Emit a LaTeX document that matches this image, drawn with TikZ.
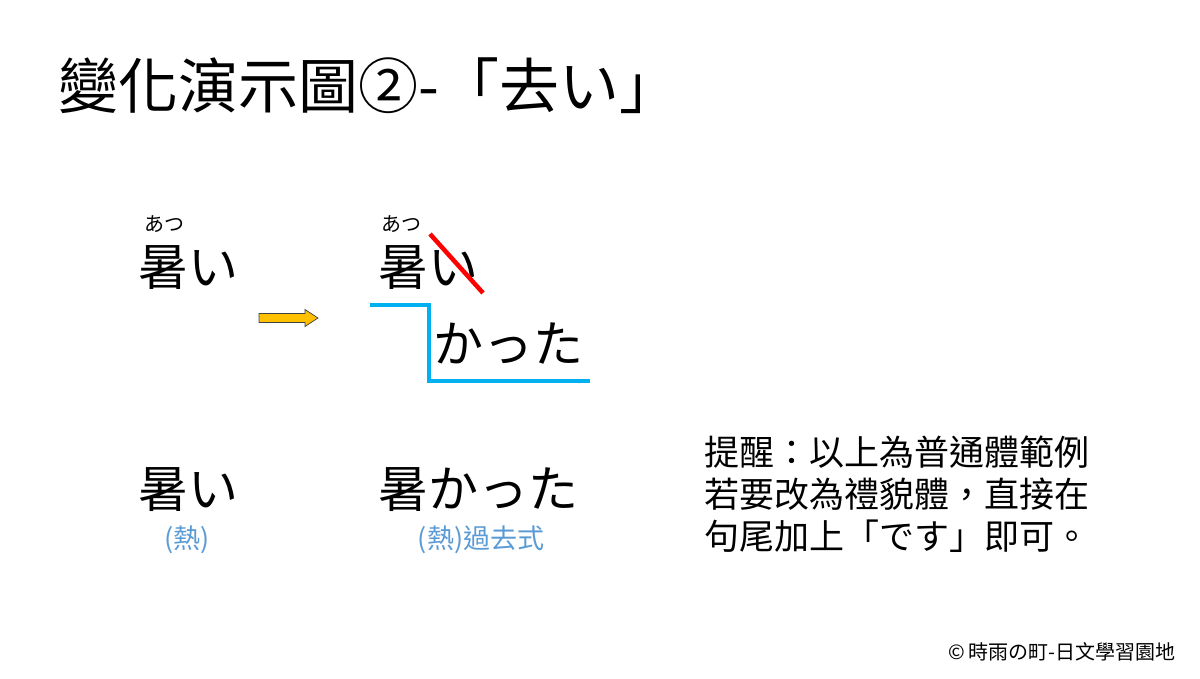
\documentclass[tikz,border=0pt]{standalone}
\usepackage{fontspec}
\setmainfont{Noto Sans CJK TC}
\definecolor{bluelabel}{HTML}{5B9BD5}
\definecolor{cyanline}{HTML}{00B0F0}
\definecolor{arrowfill}{HTML}{FFC000}
\tikzset{
  big/.style={inner sep=0pt, font=\fontsize{50}{54}\selectfont},
  ruby/.style={inner sep=0pt, font=\fontsize{20}{22}\selectfont},
  gloss/.style={inner sep=0pt, text=bluelabel, font=\fontsize{27}{30}\selectfont},
  note/.style={inner sep=0pt, align=left, font=\fontsize{35}{42}\selectfont},
}
\begin{document}
\begin{tikzpicture}[x=1pt,y=-1pt]
\useasboundingbox[fill=white] (0,0) rectangle (1200,679);
\node[inner sep=0pt, anchor=west, font=\fontsize{60}{64}\selectfont] (title) at (58,86) {變化演示圖②-「去い」};

% top row
\node[big, anchor=west] (w1) at (138,268) {暑い};
\node[ruby, anchor=west] (r1) at (144,224) {あつ};
\node[big, anchor=west] (w2) at (378,268) {暑い};
\node[ruby, anchor=west] (r2) at (381,224) {あつ};
\node[big, anchor=west] (suf) at (433,344) {かった};

\coordinate (red1) at (430,234);
\coordinate (red2) at (483,293);
\draw[red, line width=4.5pt] (red1) -- (red2);

\coordinate (b1) at (370,305);
\coordinate (b2) at (429,305);
\coordinate (b3) at (429,381);
\coordinate (b4) at (590,381);
\draw[cyanline, line width=3.5pt] (b1) -- (b2) -- (b3) -- (b4);

% block arrow
\coordinate (arr) at (259,318);
\draw[fill=arrowfill, draw=black!75, line width=0.7pt, line join=miter]
  (arr) ++(0,-4.5) -- ++(46,0) -- ++(0,-4) -- ++(13,8.5) -- ++(-13,8.5) -- ++(0,-4) -- ++(-46,0) -- cycle;

% bottom row
\node[big, anchor=west] (w3) at (138,490) {暑い};
\node[gloss] (g1) at (187,540) {(熱)};
\node[big, anchor=west] (w4) at (378,490) {暑かった};
\node[gloss] (g2) at (481,540) {(熱)過去式};

% note
\node[note, anchor=north west] (n) at (704,436) {提醒：以上為普通體範例\\若要改為禮貌體，直接在\\句尾加上「です」即可。};

\node[inner sep=0pt, anchor=east, font=\fontsize{20}{22}\selectfont] (copy) at (1176,652) {©\,時雨の町-日文學習園地};
\end{tikzpicture}
\end{document}
